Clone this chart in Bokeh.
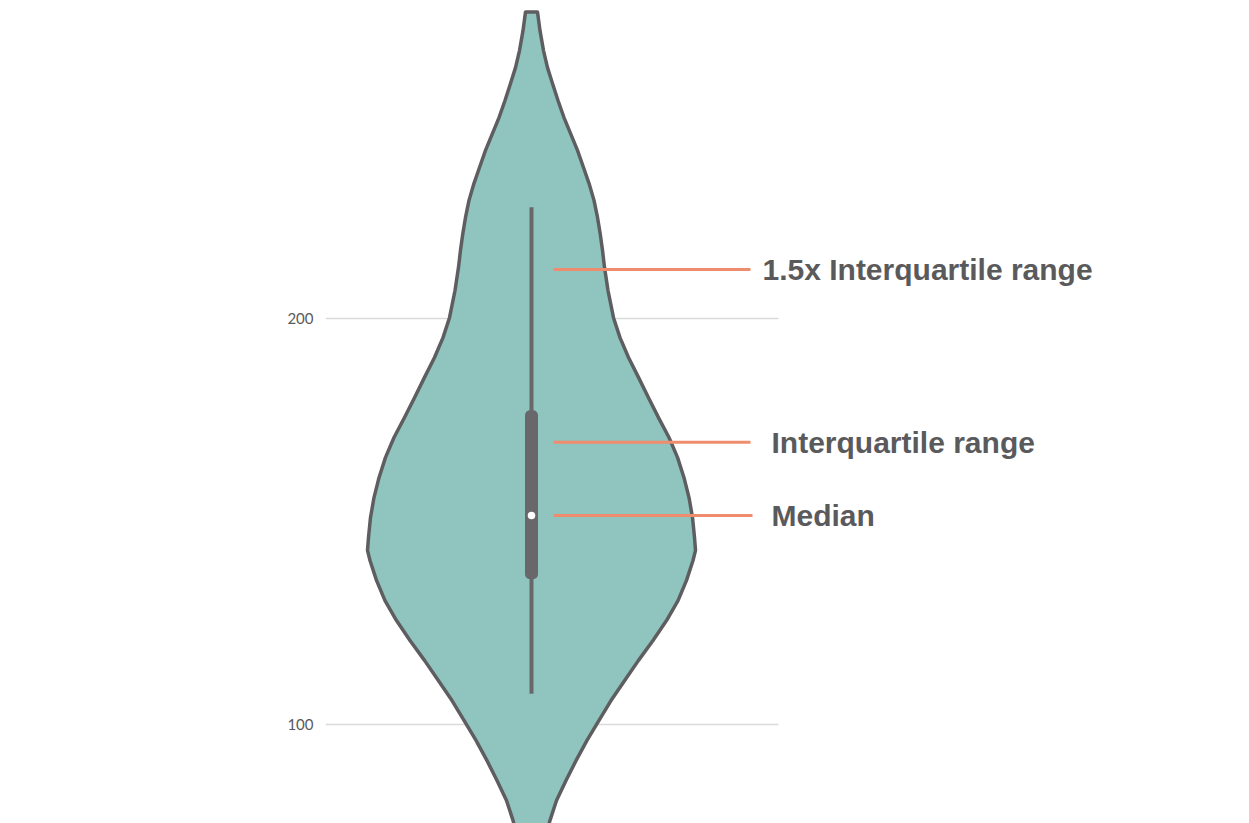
from bokeh.plotting import figure
from bokeh.models import Range1d, FixedTicker, ColumnDataSource
from bokeh.core.properties import value
from bokeh.embed import file_html
from bokeh.resources import INLINE
import numpy as np

# ---- data ----
violin_y = [275.5, 270.9, 266.0, 261.8, 257.9, 253.7, 249.5, 245.6, 241.4, 237.2,
            233.3, 229.1, 224.9, 220.9, 216.8, 212.6, 206.9, 200.2, 195.3, 190.4,
            185.5, 180.5, 175.6, 170.7, 165.8, 160.8, 155.9, 151.0, 146.1, 142.9,
            140.4, 135.5, 130.5, 125.6, 120.7, 115.8, 110.8, 105.9, 101.0, 96.1,
            91.1, 86.2, 81.3, 76.4, 71.4]
violin_density = [6, 8.5, 12, 16, 21, 26.5, 32.5, 39, 46, 52,
                  57.5, 62.5, 66, 68.7, 71, 73, 76.5, 82, 88.5, 97,
                  107, 117, 127, 137.5, 146, 152.5, 157.5, 161, 163, 164,
                  161.5, 155, 146.5, 135, 121.5, 107, 93, 79.5, 67.5, 55.5,
                  44.5, 34.5, 25, 18.5, 13]
whisker_low = 107.6
whisker_high = 227.4
q1 = 135.8
q3 = 177.4
median = 151.5
y_ticks = [100, 200]
annot_y = [212.1, 169.5, 151.5]
annot_text = ["1.5x Interquartile range", "Interquartile range", "Median"]

# ---- styles / layout ----
FILL = "#8fc4bf"
EDGE = "#5e5e60"
BOX = "#68686a"
SALMON = "#f08c6e"
TXT = "#5a5a5c"
GRID = "#dadada"

X_LEFT, X_GRID_END, X_RIGHT = -206, 247, 718

p = figure(width=1249, height=823,
           x_range=Range1d(X_LEFT, X_RIGHT), y_range=Range1d(75.62, 278.33),
           output_backend="svg", toolbar_location=None,
           min_border_left=325, min_border_right=0,
           min_border_top=0, min_border_bottom=0)
p.outline_line_color = None
p.background_fill_color = "white"
p.border_fill_color = "white"

p.xaxis.visible = False
p.xgrid.visible = False
p.ygrid.visible = False
p.yaxis.ticker = FixedTicker(ticks=y_ticks)
p.yaxis.axis_line_color = None
p.yaxis.major_tick_line_color = None
p.yaxis.minor_tick_line_color = None
p.yaxis.major_tick_out = 0
p.yaxis.major_tick_in = 0
p.yaxis.major_label_standoff = 12
p.yaxis.major_label_text_font = "Lato"
p.yaxis.major_label_text_font_size = "15px"
p.yaxis.major_label_text_color = "#5a5a5a"

# horizontal grid lines at the tick values, ending where the reference grid ends
gsrc = ColumnDataSource(dict(y=y_ticks, x0=[X_LEFT] * len(y_ticks), x1=[X_GRID_END] * len(y_ticks)))
p.segment(x0="x0", y0="y", x1="x1", y1="y", source=gsrc, line_color=GRID, line_width=1.5)

# violin body
vy = np.array(violin_y)
vw = np.array(violin_density)
xs = np.concatenate([-vw, vw[::-1]])
ys = np.concatenate([vy, vy[::-1]])
p.patch(xs, ys, fill_color=FILL, line_color=EDGE, line_width=3.5, line_join="round")

# inner box plot
p.segment(x0=[0], y0=[whisker_low], x1=[0], y1=[whisker_high], line_color=BOX, line_width=4)
p.vbar(x=[0], bottom=[q1], top=[q3], width=13, fill_color=BOX, line_color=None, border_radius=5)
p.scatter(x=[0], y=[median], size=7.5, fill_color="white", line_color=None)

# annotation lines and texts
src = ColumnDataSource(dict(y=annot_y, x0=[22, 22, 22], x1=[219, 219, 221],
                            tx=[231, 240, 240], text=annot_text))
p.segment(x0="x0", y0="y", x1="x1", y1="y", source=src, line_color=SALMON, line_width=3)
p.text(x="tx", y="y", text="text", source=src, text_baseline="middle", text_align="left",
       text_font=value("Liberation Sans"), text_font_style="bold",
       text_font_size="30px", text_color=TXT)

open("out.html", "w").write(file_html(p, INLINE))
